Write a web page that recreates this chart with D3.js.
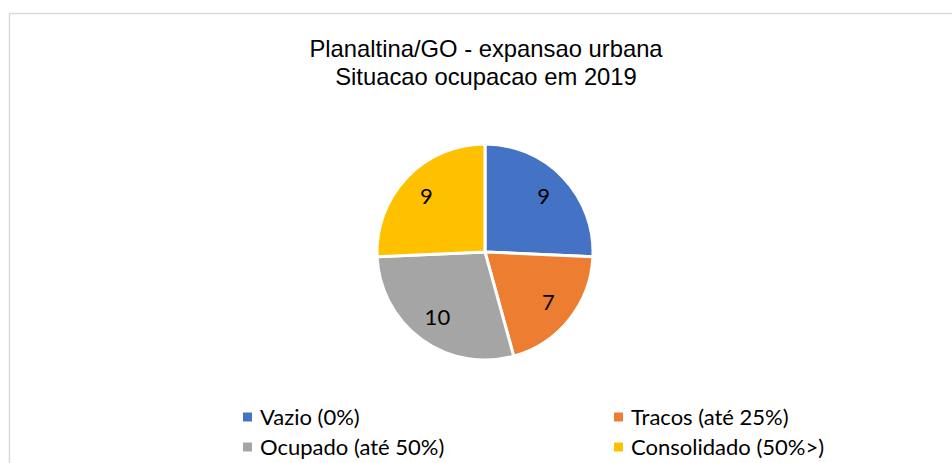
<!DOCTYPE html>
<html>
<head>
<meta charset="utf-8">
<script src="https://cdn.jsdelivr.net/npm/d3@7"></script>
<style>
    body { margin: 0; background: #fff; }
    svg { display: block; }
</style>
</head>
<body>
<div id="chart"></div>
<script>
// pie of urban occupation, Planaltina/GO

var categories = ['Vazio (0%)', 'Tracos (até 25%)', 'Ocupado (até 50%)', 'Consolidado (50%>)'];
var values = [9, 7, 10, 9];
var colors = ['#4472c4', '#ed7d31', '#a5a5a5', '#ffc000'];
var titleLines = ['Planaltina/GO - expansao urbana', 'Situacao ocupacao em 2019'];

var width = 952, height = 463;

var svg = d3.select('#chart')
    .append('svg')
    .attr('width', width)
    .attr('height', height);

// chart area border (runs off the right and bottom)
svg.append('rect')
    .attr('x', 9.5)
    .attr('y', 13.5)
    .attr('width', 960)
    .attr('height', 470)
    .attr('fill', 'none')
    .attr('stroke', '#d9d9d9')
    .attr('stroke-width', 1.5);

svg.selectAll('.title')
    .data(titleLines)
    .enter()
    .append('text')
    .attr('class', 'title')
    .attr('x', 486)
    .attr('y', (d, i) => 57 + i * 28)
    .attr('text-anchor', 'middle')
    .style('font-family', 'Liberation Sans, Arial, sans-serif')
    .style('font-size', '23.8px')
    .attr('fill', '#000')
    .text(d => d);

var data = categories.map((c, i) => ({ name: c, value: values[i], color: colors[i] }));

var radius = 108;

var pie = d3.pie()
    .sort(null)
    .value(d => d.value);

var arc = d3.arc()
    .innerRadius(0)
    .outerRadius(radius);

var labelArc = d3.arc()
    .innerRadius(radius * 0.75)
    .outerRadius(radius * 0.75);

var g = svg.append('g')
    .attr('transform', 'translate(485,252)');

g.selectAll('.slice')
    .data(pie(data))
    .enter()
    .append('path')
    .attr('class', 'slice')
    .attr('d', arc)
    .attr('fill', d => d.data.color)
    .attr('stroke', '#fff')
    .attr('stroke-width', 3)
    .attr('stroke-linejoin', 'round');

g.selectAll('.label')
    .data(pie(data))
    .enter()
    .append('text')
    .attr('class', 'label')
    .attr('transform', d => 'translate(' + labelArc.centroid(d) + ')')
    .attr('text-anchor', 'middle')
    .attr('dy', '0.35em')
    .style('font-family', 'Lato, Open Sans, sans-serif')
    .style('font-size', '22px')
    .attr('fill', '#000')
    .text(d => d.data.value);

// legend, two columns
var legendX = [243, 614];
var legendY = [417, 447];

var legend = svg.selectAll('.legend')
    .data(data)
    .enter()
    .append('g')
    .attr('class', 'legend')
    .attr('transform', (d, i) => 'translate(' + legendX[i % 2] + ',' + legendY[Math.floor(i / 2)] + ')');

legend.append('rect')
    .attr('x', 0)
    .attr('y', -4.5)
    .attr('width', 9)
    .attr('height', 9)
    .attr('fill', d => d.color);

legend.append('text')
    .attr('x', 17)
    .attr('dy', '0.35em')
    .style('font-family', 'Lato, Open Sans, sans-serif')
    .style('font-size', '22px')
    .attr('fill', '#000')
    .text(d => d.name);
</script>
</body>
</html>
